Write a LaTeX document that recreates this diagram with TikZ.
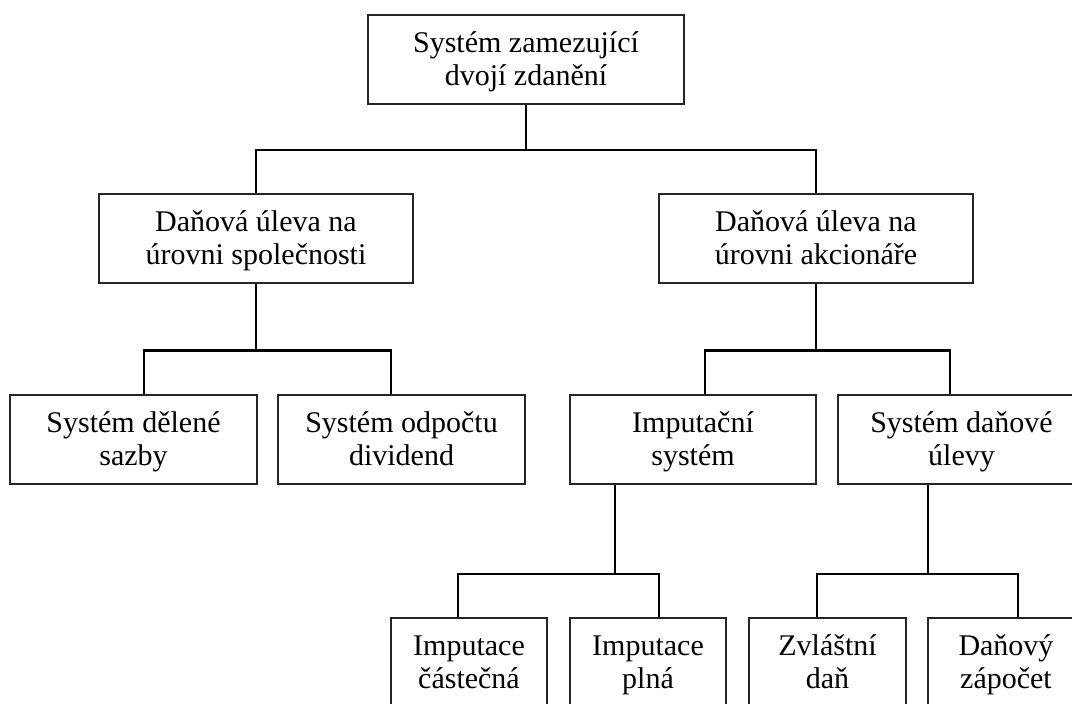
\documentclass[tikz,border=0pt]{standalone}
\usepackage{fontspec}
\setmainfont{Liberation Serif}
\usetikzlibrary{calc}
\newcommand{\firstln}{\rule{0pt}{29pt}}
\newcommand{\lastln}{\rule[-9.9pt]{0pt}{9.9pt}}
\begin{document}
\begin{tikzpicture}[x=1pt,y=1pt,
  box/.style={draw=black!85, line width=1.4pt, fill=white, inner sep=0pt,
    minimum height=89pt, align=center,
    font=\fontsize{30}{33}\selectfont},
  conn/.style={draw=black, line width=2.2pt, line join=miter, line cap=rect}]
\useasboundingbox (0,0) rectangle (1072,-704);
\clip (0,0) rectangle (1072,-704);
\fill[white] (0,0) rectangle (1072,-704);

% junction levels
\coordinate (j1) at (0,-150);
\coordinate (j2) at (0,-350.5);
\coordinate (j3) at (0,-574);

% nodes
\node[box, minimum width=316pt] (top) at (526,-59.5) {\firstln Systém zamezující\\dvojí zdanění\lastln};
\node[box, minimum width=314pt] (l2a) at (256,-238.5) {\firstln Daňová úleva na\\úrovni společnosti\lastln};
\node[box, minimum width=314pt] (l2b) at (816,-238.5) {\firstln Daňová úleva na\\úrovni akcionáře\lastln};
\node[box, minimum width=247pt] (l3a) at (133.5,-439.5) {\firstln Systém dělené\\sazby\lastln};
\node[box, minimum width=247pt] (l3b) at (401.5,-439.5) {\firstln Systém odpočtu\\dividend\lastln};
\node[box, minimum width=246pt] (l3c) at (693,-439.5) {\firstln Imputační\\systém\lastln};
\node[box, minimum width=247pt] (l3d) at (961.5,-439.5) {\firstln Systém daňové\\úlevy\lastln};
\node[box, minimum width=156pt] (l4a) at (469,-662.5) {\firstln Imputace\\částečná\lastln};
\node[box, minimum width=156pt] (l4b) at (648,-662.5) {\firstln Imputace\\plná\lastln};
\node[box, minimum width=157pt] (l4c) at (827.5,-662.5) {\firstln Zvláštní\\daň\lastln};
\node[box, minimum width=156pt] (l4d) at (1006,-662.5) {\firstln Daňový\\zápočet\lastln};

% attachment points that are off-centre
\coordinate (a3a) at ($(l3a.north)+(10.5,0)$);
\coordinate (a3b) at ($(l3b.north)+(-10.5,0)$);
\coordinate (a3c) at ($(l3c.north)+(12,0)$);
\coordinate (a3d) at ($(l3d.north)+(-11.5,0)$);
\coordinate (s3c) at ($(l3c.south)+(-78,0)$);
\coordinate (s3d) at ($(l3d.south)+(-33.5,0)$);
\coordinate (a4a) at ($(l4a.north)+(-11,0)$);
\coordinate (a4b) at ($(l4b.north)+(11,0)$);
\coordinate (a4c) at ($(l4c.north)+(-10.5,0)$);
\coordinate (a4d) at ($(l4d.north)+(12,0)$);

% connectors
\draw[conn] (top.south) -- (top.south |- j1);
\draw[conn] (l2a.north) -- (l2a.north |- j1) -- (l2b.north |- j1) -- (l2b.north);

\draw[conn] (l2a.south) -- (l2a.south |- j2);
\draw[conn] (a3a) -- (a3a |- j2) -- (a3b |- j2) -- (a3b);

\draw[conn] (l2b.south) -- (l2b.south |- j2);
\draw[conn] (a3c) -- (a3c |- j2) -- (a3d |- j2) -- (a3d);

\draw[conn] (s3c) -- (s3c |- j3);
\draw[conn] (a4a) -- (a4a |- j3) -- (a4b |- j3) -- (a4b);

\draw[conn] (s3d) -- (s3d |- j3);
\draw[conn] (a4c) -- (a4c |- j3) -- (a4d |- j3) -- (a4d);

% redraw box outlines on top of connector ends
\foreach \n in {top,l2a,l2b,l3a,l3b,l3c,l3d,l4a,l4b,l4c,l4d}
  \draw[black!85, line width=1.4pt] (\n.south west) rectangle (\n.north east);
\end{tikzpicture}
\end{document}
